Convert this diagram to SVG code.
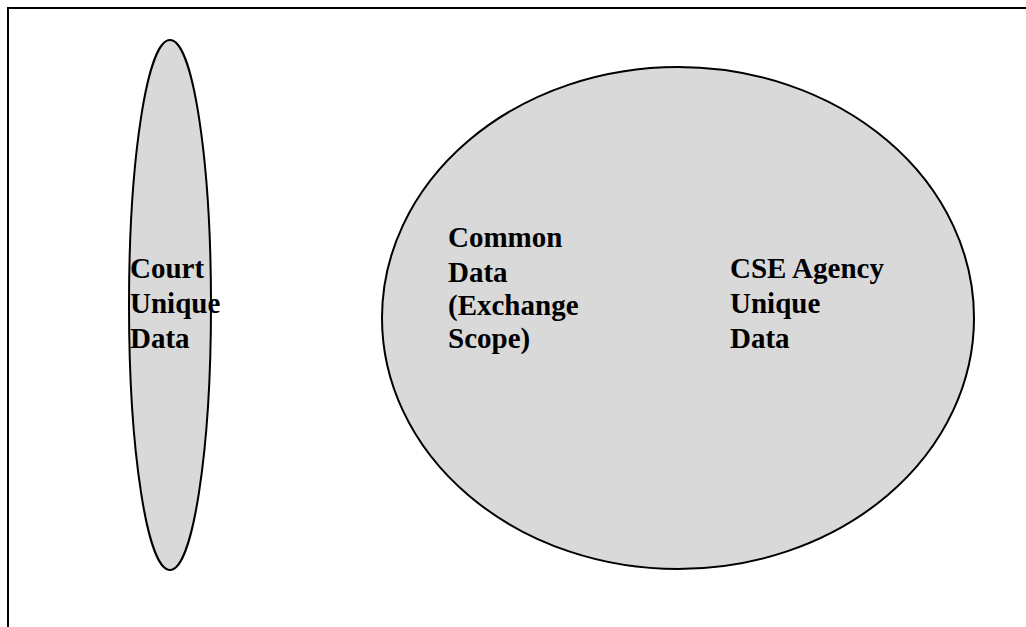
<svg xmlns="http://www.w3.org/2000/svg" width="1026" height="627" viewBox="0 0 1026 627">
<style>
.blob{fill:#d9d9d9;stroke:#000;stroke-width:2}
.lbl{font-family:"Liberation Serif","Times New Roman",serif;font-weight:bold;font-size:29px;fill:#000}
.frame{fill:none;stroke:#000;stroke-width:2}
</style>
<rect width="1026" height="627" fill="#fff"/>
<path class="frame" d="M8,627 V8 H1026"/>
<g id="court">
<ellipse class="blob" cx="170" cy="305" rx="41" ry="265"/>
<text class="lbl"><tspan x="130" y="278">Court</tspan><tspan x="130" y="313">Unique</tspan><tspan x="130" y="348">Data</tspan></text>
</g>
<g id="cse">
<ellipse class="blob" cx="678" cy="318" rx="296" ry="251"/>
<text class="lbl"><tspan x="448" y="247">Common</tspan><tspan x="448" y="282">Data</tspan><tspan x="448" y="315">(Exchange</tspan><tspan x="448" y="348">Scope)</tspan></text>
<text class="lbl"><tspan x="730" y="278">CSE Agency</tspan><tspan x="730" y="313">Unique</tspan><tspan x="730" y="348">Data</tspan></text>
</g>
<g id="connectors"/>
</svg>
